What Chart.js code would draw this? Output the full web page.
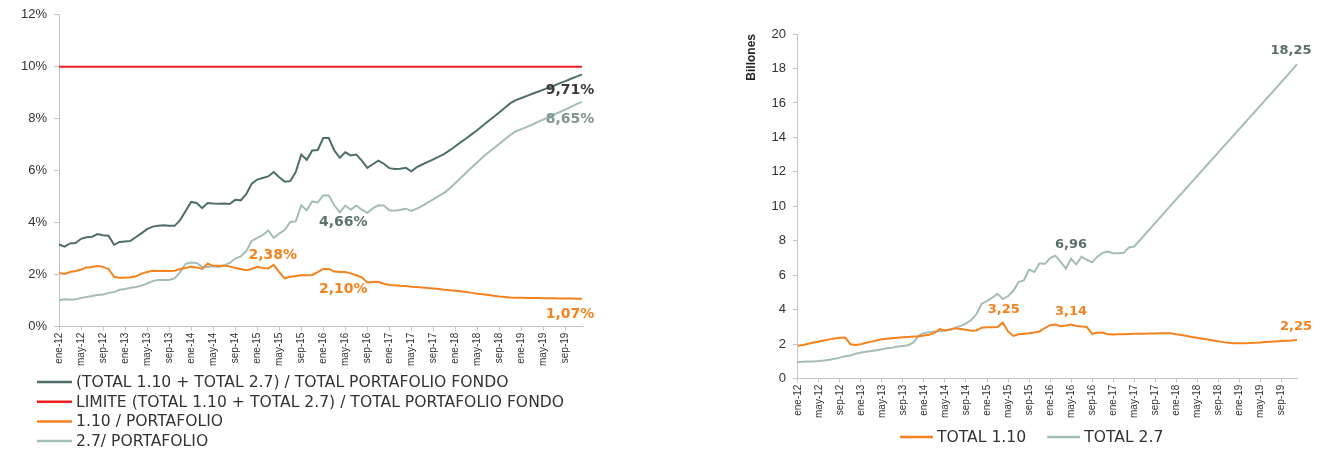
<!DOCTYPE html>
<html>
<head>
<meta charset="utf-8">
<script src="https://cdn.jsdelivr.net/npm/chart.js@4.4.1/dist/chart.umd.min.js"></script>
<style>
html,body{margin:0;padding:0;background:#fff;}
#izq{position:absolute;left:0;top:0;width:640px;height:450px;}
#der{position:absolute;left:700px;top:0;width:620px;height:450px;}
</style>
</head>
<body>
<div id="izq"><canvas id="c1"></canvas></div>
<div id="der"><canvas id="c2"></canvas></div>
<script>
// meses ene-12 .. dic-19
var meses=['ene','feb','mar','abr','may','jun','jul','ago','sep','oct','nov','dic']
var anios=['12','13','14','15','16','17','18','19']
var etiquetas=[]
anios.forEach(function(a){ meses.forEach(function(m){ etiquetas.push(m+'-'+a) }) })

// grafico izquierdo (%)
var totalPct=[3.16,3.08,3.20,3.22,3.38,3.44,3.46,3.56,3.52,3.50,3.15,3.26,
  3.28,3.30,3.45,3.60,3.75,3.85,3.88,3.90,3.88,3.88,4.10,4.45,
  4.80,4.76,4.56,4.76,4.74,4.73,4.74,4.72,4.88,4.86,5.10,5.50,
  5.66,5.72,5.78,5.95,5.75,5.58,5.60,5.95,6.62,6.42,6.78,6.80,
  7.26,7.26,6.78,6.50,6.71,6.59,6.62,6.39,6.11,6.25,6.39,6.27,
  6.10,6.07,6.08,6.11,5.98,6.14,6.24,6.34,6.44,6.54,6.65,6.79,
  6.94,7.10,7.25,7.41,7.57,7.74,7.91,8.08,8.25,8.42,8.60,8.72,
  8.80,8.88,8.96,9.04,9.12,9.20,9.28,9.37,9.45,9.54,9.62,9.71]
var limitePct=10
var pct110=[2.07,2.03,2.10,2.14,2.20,2.28,2.30,2.33,2.30,2.22,1.92,1.88,
  1.88,1.90,1.94,2.04,2.10,2.15,2.14,2.15,2.14,2.15,2.22,2.26,
  2.30,2.28,2.22,2.42,2.34,2.34,2.34,2.32,2.26,2.22,2.17,2.22,
  2.30,2.26,2.24,2.38,2.10,1.86,1.92,1.95,1.98,1.98,1.99,2.10,
  2.22,2.22,2.12,2.10,2.10,2.05,1.98,1.90,1.70,1.72,1.73,1.65,
  1.60,1.59,1.57,1.56,1.54,1.53,1.51,1.49,1.47,1.45,1.42,1.40,
  1.38,1.36,1.33,1.30,1.27,1.25,1.22,1.19,1.16,1.14,1.12,1.11,
  1.11,1.10,1.10,1.10,1.09,1.09,1.09,1.08,1.08,1.08,1.07,1.07]
var pct27=[1.02,1.05,1.04,1.05,1.10,1.14,1.18,1.22,1.24,1.30,1.33,1.42,
  1.45,1.50,1.53,1.58,1.66,1.75,1.80,1.80,1.80,1.86,2.10,2.42,
  2.47,2.45,2.30,2.30,2.32,2.30,2.36,2.45,2.62,2.70,2.90,3.30,
  3.42,3.52,3.70,3.42,3.58,3.72,4.03,4.05,4.67,4.48,4.82,4.78,
  5.05,5.05,4.67,4.40,4.66,4.50,4.66,4.50,4.38,4.55,4.67,4.66,
  4.48,4.46,4.50,4.54,4.45,4.54,4.65,4.78,4.90,5.03,5.16,5.33,
  5.53,5.73,5.93,6.13,6.33,6.53,6.70,6.87,7.04,7.21,7.38,7.52,
  7.60,7.69,7.78,7.88,7.97,8.07,8.17,8.26,8.36,8.46,8.56,8.65]

// grafico derecho (billones)
var total110=[1.91,1.95,2.03,2.10,2.16,2.22,2.28,2.33,2.37,2.39,2.00,1.96,
  2.00,2.08,2.15,2.22,2.28,2.31,2.34,2.37,2.40,2.42,2.44,2.46,
  2.50,2.55,2.66,2.88,2.80,2.86,2.92,2.88,2.84,2.78,2.80,2.96,
  2.98,2.98,2.99,3.25,2.74,2.48,2.58,2.60,2.63,2.68,2.74,2.94,
  3.10,3.14,3.04,3.08,3.14,3.06,3.02,3.00,2.60,2.66,2.68,2.57,
  2.56,2.57,2.58,2.59,2.60,2.60,2.61,2.62,2.62,2.63,2.64,2.64,
  2.58,2.53,2.48,2.42,2.37,2.32,2.27,2.22,2.17,2.12,2.08,2.05,
  2.05,2.06,2.07,2.09,2.10,2.12,2.14,2.16,2.18,2.20,2.22,2.25]
var total27=[0.97,0.98,0.99,1.00,1.03,1.06,1.10,1.15,1.22,1.30,1.34,1.45,
  1.52,1.56,1.60,1.65,1.70,1.76,1.80,1.86,1.90,1.94,2.10,2.50,
  2.64,2.70,2.74,2.75,2.80,2.84,2.96,3.06,3.20,3.40,3.75,4.35,
  4.50,4.70,4.92,4.62,4.78,5.10,5.60,5.70,6.33,6.19,6.69,6.65,
  7.00,7.14,6.79,6.39,6.96,6.63,7.08,6.90,6.75,7.08,7.30,7.38,
  7.28,7.28,7.30,7.61,7.67,8.00,8.35,8.69,9.03,9.37,9.72,10.06,
  10.40,10.74,11.08,11.42,11.76,12.10,12.44,12.78,13.12,13.46,13.80,14.14,
  14.48,14.82,15.16,15.50,15.84,16.18,16.52,16.86,17.20,17.54,17.89,18.25]

var NARANJA='#f5821f', OSCURO='#4f6e6b', CLARO='#a5bdb9', ROJO='#ee1d25'
var fuenteTicks='"Liberation Sans", Arial, sans-serif'

// etiquetas de valor sobre las lineas
var etiquetasDatos={
  id:'etiquetasDatos',
  afterDatasetsDraw:function(chart,args,opts){
    var ctx=chart.ctx
    ctx.save()
    ctx.textAlign='center'
    ctx.textBaseline='middle'
    ctx.font=opts.font
    opts.items.forEach(function(it){
      var v=chart.data.datasets[it.ds].data[it.i]
      var x=chart.scales.x.getPixelForValue(it.i)
      var y=chart.scales.y.getPixelForValue(v)
      ctx.fillStyle=it.color
      ctx.fillText(v.toFixed(2).replace('.',',')+opts.sufijo,x+it.dx,y+it.dy)
    })
    ctx.restore()
  }
}

// leyenda con lineas, vertical u horizontal
var leyendaLineas={
  id:'leyendaLineas',
  afterDraw:function(chart,args,opts){
    var ctx=chart.ctx
    ctx.save()
    ctx.font=opts.font
    ctx.textBaseline='middle'
    ctx.lineWidth=2.5
    var x=opts.x, y=opts.y
    chart.data.datasets.forEach(function(ds){
      ctx.strokeStyle=ds.borderColor
      ctx.beginPath(); ctx.moveTo(x,y); ctx.lineTo(x+opts.largo,y); ctx.stroke()
      ctx.fillStyle='#333'
      ctx.fillText(ds.label,x+opts.largo+4,y+1)
      if(opts.vertical) y+=opts.paso
      else x+=opts.largo+4+ctx.measureText(ds.label).width+opts.hueco
    })
    ctx.restore()
  }
}

function ejeX(){
  return {
    grid:{drawOnChartArea:false,tickLength:4,
      tickColor:function(c){ return c.index%4===0?'#c4c4c4':'rgba(0,0,0,0)' }},
    border:{color:'#c4c4c4'},
    ticks:{autoSkip:false,minRotation:90,maxRotation:90,padding:2,color:'#333',
      font:{family:fuenteTicks,size:10},
      callback:function(v,i){ return i%4===0?this.getLabelForValue(v):'' }}
  }
}

var linea={pointRadius:0,borderWidth:2,tension:0,fill:false}

new Chart(document.getElementById('c1'),{
  type:'line',
  data:{
    labels:etiquetas,
    datasets:[
      Object.assign({label:'(TOTAL 1.10 + TOTAL 2.7) / TOTAL PORTAFOLIO FONDO',data:totalPct,borderColor:OSCURO},linea),
      Object.assign({label:'LIMITE (TOTAL 1.10 + TOTAL 2.7) / TOTAL PORTAFOLIO FONDO',data:etiquetas.map(function(){return limitePct}),borderColor:ROJO},linea),
      Object.assign({label:'1.10 / PORTAFOLIO',data:pct110,borderColor:NARANJA},linea),
      Object.assign({label:'2.7/ PORTAFOLIO',data:pct27,borderColor:CLARO},linea)
    ]
  },
  options:{
    responsive:true,maintainAspectRatio:false,animation:false,
    layout:{padding:{left:14,right:58,top:12,bottom:82}},
    plugins:{
      legend:{display:false},tooltip:{enabled:false},
      etiquetasDatos:{font:'bold 14px "DejaVu Sans", sans-serif',sufijo:'%',items:[
        {ds:0,i:95,dx:-12,dy:16,color:'#3a3a3a'},
        {ds:3,i:95,dx:-12,dy:17,color:'#7f9592'},
        {ds:2,i:95,dx:-12,dy:16,color:NARANJA},
        {ds:3,i:52,dx:-2,dy:17,color:'#5d7471'},
        {ds:2,i:52,dx:-2,dy:17,color:NARANJA},
        {ds:2,i:39,dx:-1,dy:-9,color:NARANJA}
      ]},
      leyendaLineas:{font:'15.6px "DejaVu Sans", sans-serif',vertical:true,x:37,y:382,largo:35,paso:19.7}
    },
    scales:{
      x:ejeX(),
      y:{min:0,max:12,
        grid:{drawOnChartArea:false,tickLength:5,color:'#c4c4c4'},
        border:{color:'#c4c4c4'},
        ticks:{stepSize:2,padding:7,color:'#333',font:{family:fuenteTicks,size:13},
          callback:function(v){ return v+'%' }}}
    }
  },
  plugins:[etiquetasDatos,leyendaLineas]
})

new Chart(document.getElementById('c2'),{
  type:'line',
  data:{
    labels:etiquetas,
    datasets:[
      Object.assign({label:'TOTAL 1.10',data:total110,borderColor:NARANJA},linea),
      Object.assign({label:'TOTAL 2.7',data:total27,borderColor:CLARO},linea)
    ]
  },
  options:{
    responsive:true,maintainAspectRatio:false,animation:false,
    layout:{padding:{left:44,right:23,top:34,bottom:30}},
    plugins:{
      legend:{display:false},tooltip:{enabled:false},
      etiquetasDatos:{font:'bold 13px "DejaVu Sans", sans-serif',sufijo:'',items:[
        {ds:1,i:95,dx:-6,dy:-14,color:'#5d6f6c'},
        {ds:1,i:52,dx:0,dy:-14,color:'#5d6f6c'},
        {ds:0,i:39,dx:1,dy:-13,color:NARANJA},
        {ds:0,i:52,dx:0,dy:-13,color:NARANJA},
        {ds:0,i:95,dx:-1,dy:-13,color:NARANJA}
      ]},
      leyendaLineas:{font:'15.6px "DejaVu Sans", sans-serif',vertical:false,x:200,y:437,largo:33,hueco:21}
    },
    scales:{
      x:ejeX(),
      y:{min:0,max:20,
        title:{display:true,text:'Billones',align:'end',color:'#222',padding:{top:0,bottom:6},
          font:{family:fuenteTicks,size:12,weight:'bold'}},
        grid:{drawOnChartArea:false,tickLength:5,color:'#c4c4c4'},
        border:{color:'#c4c4c4'},
        ticks:{stepSize:2,padding:7,color:'#333',font:{family:fuenteTicks,size:13}}}
    }
  },
  plugins:[etiquetasDatos,leyendaLineas]
})
</script>
</body>
</html>
